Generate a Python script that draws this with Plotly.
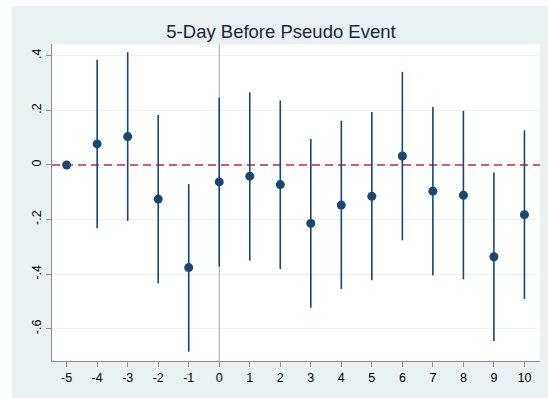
import plotly.graph_objects as go

days = [-5, -4, -3, -2, -1, 0, 1, 2, 3, 4, 5, 6, 7, 8, 9, 10]
day_labels = ["-5", "-4", "-3", "-2", "-1", "0", "1", "2", "3", "4", "5",
              "6", "7", "8", "9", "10"]
coef = [0.0, 0.077, 0.104, -0.125, -0.376, -0.062, -0.041, -0.072,
        -0.214, -0.147, -0.115, 0.033, -0.096, -0.111, -0.336, -0.182]
ci_hi = [0.0, 0.385, 0.413, 0.183, -0.070, 0.247, 0.266, 0.236,
         0.095, 0.162, 0.194, 0.341, 0.212, 0.198, -0.028, 0.127]
ci_lo = [0.0, -0.232, -0.205, -0.433, -0.684, -0.372, -0.350, -0.381,
         -0.523, -0.454, -0.422, -0.276, -0.405, -0.419, -0.645, -0.491]
ytick_vals = [-0.6, -0.4, -0.2, 0, 0.2, 0.4]
ytick_text = ["-.6", "-.4", "-.2", "0", ".2", ".4"]
title_text = "5-Day Before Pseudo Event"

x_range = [-5.48, 10.51]
y_range = [-0.718, 0.443]

navy = "#1a476f"
bg = "#e9f1f3"

err_plus = [h - c for h, c in zip(ci_hi, coef)]
err_minus = [c - l for c, l in zip(coef, ci_lo)]

fig = go.Figure()
# reference lines (drawn first, under the estimates)
fig.add_trace(go.Scatter(x=[0, 0], y=y_range, mode="lines",
                         line=dict(color="#a6a6a6", width=1),
                         showlegend=False, hoverinfo="skip"))
fig.add_trace(go.Scatter(x=x_range, y=[0, 0], mode="lines",
                         line=dict(color="#c5284a", width=1.6, dash="8px,5px"),
                         showlegend=False, hoverinfo="skip"))
fig.add_trace(go.Scatter(
    x=days, y=coef, mode="markers",
    marker=dict(color=navy, size=9),
    error_y=dict(type="data", symmetric=False, array=err_plus,
                 arrayminus=err_minus, color=navy, thickness=1.6, width=0),
    showlegend=False, cliponaxis=False,
))

W, H = 548, 398
L, R, T, B = 52, 8, 44, 37
pw, ph = W - L - R, H - T - B

fig.add_shape(type="rect", xref="paper", yref="paper",
              x0=(12 - L) / pw, x1=(W - L) / pw,
              y0=-(B) / ph, y1=(H - B - 6) / ph,
              fillcolor=bg, line_width=0, layer="below")
fig.add_shape(type="rect", xref="paper", yref="paper",
              x0=0, x1=1, y0=0, y1=1,
              fillcolor="white", line_width=0, layer="below")

fig.update_layout(
    width=W, height=H,
    margin=dict(l=L, r=R, t=T, b=B, autoexpand=False),
    paper_bgcolor="white", plot_bgcolor="white",
    font=dict(family="Liberation Sans, Arial, sans-serif", color="black", size=12),
    title=dict(text=title_text, x=(281) / W, xanchor="center",
               y=1 - 31.5 / H, yanchor="middle",
               font=dict(size=18.5, color="#1c2638")),
)
fig.update_xaxes(range=x_range, tickmode="array", tickvals=days,
                 ticktext=day_labels,
                 showgrid=False, zeroline=False, showline=True,
                 linecolor="#8c8c8c", linewidth=1, ticks="outside",
                 ticklen=5, tickcolor="#8c8c8c", tickfont=dict(size=12.5))
fig.update_yaxes(range=y_range, tickmode="array", tickvals=ytick_vals,
                 ticktext=ytick_text, tickangle=-90,
                 showgrid=True, gridcolor="#eaf2f3", gridwidth=1,
                 zeroline=False, showline=True, linecolor="#8c8c8c",
                 linewidth=1, ticks="outside", ticklen=5, tickcolor="#8c8c8c",
                 tickfont=dict(size=12.5))

fig.write_html("out.html")
